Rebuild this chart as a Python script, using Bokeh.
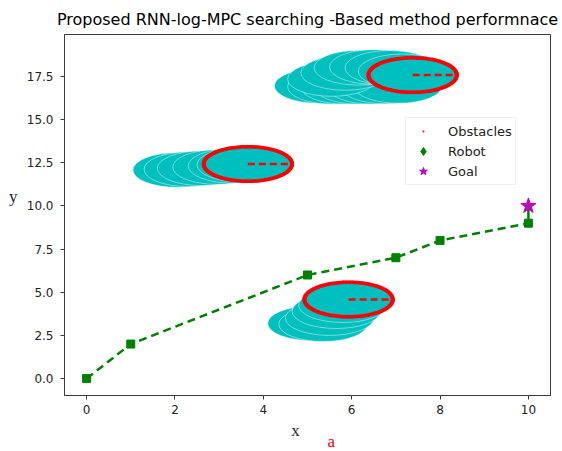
import numpy as np
from bokeh.plotting import figure
from bokeh.models import (Range1d, FixedTicker, PrintfTickFormatter, LinearAxis,
                          Legend, LegendItem)
from bokeh.embed import file_html
from bokeh.resources import INLINE

# ---------------- data ----------------
path_x = [0, 1, 5, 7, 8, 10]
path_y = [0, 2, 6, 7, 8, 9]
goal_x = [10]
goal_y = [10]
robot_x = [10]
robot_y = [10]

obs_radius = 1.0
# obstacle trajectories (centres); last entry = current obstacle position
obs1_x = [5.25, 5.55, 5.85, 6.15, 6.45, 6.75, 7.05, 5.55, 5.85, 6.15, 6.5, 6.85, 7.15, 7.38]
obs1_y = [16.95, 16.9, 16.9, 16.9, 16.9, 16.92, 16.95, 17.35, 17.7, 18.0, 18.05, 18.0, 17.8, 17.58]
obs2_x = [2.05, 2.3, 2.6, 2.95, 3.3, 3.5, 3.65]
obs2_y = [12.08, 12.12, 12.18, 12.25, 12.32, 12.38, 12.43]
obs3_x = [5.1, 5.35, 5.5, 5.65, 5.8, 5.93]
obs3_y = [3.2, 3.15, 3.5, 3.9, 4.25, 4.58]

x_ticks = [0, 2, 4, 6, 8, 10]
y_ticks = [0, 2.5, 5, 7.5, 10, 12.5, 15, 17.5]

title_text = "Proposed RNN-log-MPC searching -Based method performnace"
x_label, x_label_pos = "x", 4.73
a_label, a_label_pos = "a", 5.54
y_label, y_label_pos = "y", 10.54

CYAN = "#00bfbf"
RED = "#ff0000"
GREEN = "#008000"
MAG = "#bf00bf"
SPINE = "#3a3a3a"
LABEL_C = "#1f1f3a"

p = figure(frame_width=486, frame_height=361,
           min_border_left=64, min_border_right=8, min_border_top=34, min_border_bottom=54,
           x_range=Range1d(-0.5, 10.5), y_range=Range1d(-0.98, 19.93),
           output_backend="svg", toolbar_location=None, title=title_text)

p.title.text_font = "DejaVu Sans"
p.title.text_font_size = "16px"
p.title.text_font_style = "normal"
p.title.text_color = "black"
p.title.align = "center"
p.title.standoff = 11

p.xgrid.visible = False
p.ygrid.visible = False
p.outline_line_color = SPINE
p.outline_line_width = 1
p.outline_line_alpha = 1

for ax in (p.xaxis[0], p.yaxis[0]):
    ax.axis_line_color = SPINE
    ax.major_tick_line_color = SPINE
    ax.minor_tick_line_color = None
    ax.major_tick_in = 0
    ax.major_tick_out = 4
    ax.major_label_text_font = "DejaVu Sans"
    ax.major_label_text_font_size = "12px"
    ax.major_label_text_color = "#222222"
p.xaxis.major_label_standoff = 5
p.yaxis.major_label_standoff = 7

p.xaxis.ticker = FixedTicker(ticks=x_ticks)
p.yaxis.ticker = FixedTicker(ticks=y_ticks)
p.yaxis.formatter = PrintfTickFormatter(format="%.1f")


def label_axis(pos, text, color, standoff):
    ax = LinearAxis(ticker=FixedTicker(ticks=[pos]),
                    major_label_overrides={pos: text})
    ax.axis_line_color = None
    ax.major_tick_line_color = None
    ax.minor_tick_line_color = None
    ax.major_tick_in = 0
    ax.major_tick_out = 0
    ax.major_label_standoff = standoff
    ax.major_label_orientation = "horizontal"
    ax.major_label_text_font = "Liberation Serif"
    ax.major_label_text_font_size = "17px"
    ax.major_label_text_color = color
    return ax


p.add_layout(label_axis(x_label_pos, x_label, LABEL_C, 4), "below")
p.add_layout(label_axis(a_label_pos, a_label, RED, -11), "below")
p.add_layout(label_axis(y_label_pos, y_label, LABEL_C, 6), "left")

# ---------------- obstacles ----------------
theta = np.linspace(0, 2 * np.pi, 120)
obs_renderers = []
for ox, oy in ((obs1_x, obs1_y), (obs2_x, obs2_y), (obs3_x, obs3_y)):
    p.ellipse(x=ox, y=oy, width=2 * obs_radius, height=2 * obs_radius,
              fill_color=CYAN, line_color="white", line_width=1.0, line_alpha=0.45)
for ox, oy in ((obs1_x, obs1_y), (obs2_x, obs2_y), (obs3_x, obs3_y)):
    cx, cy = ox[-1], oy[-1]
    rx = cx + obs_radius * np.cos(theta)
    ry = cy + obs_radius * np.sin(theta)
    r = p.scatter(rx, ry, marker="dot", size=16, line_color=RED, fill_color=RED)
    obs_renderers.append(r)
    p.line([cx, cx + obs_radius], [cy, cy], line_color=RED, line_width=2.5, line_dash="7 4")

# ---------------- robot path ----------------
p.line(path_x, path_y, line_color=GREEN, line_width=2.5, line_dash="8 5")
p.scatter(path_x, path_y, marker="square", size=8, fill_color=GREEN, line_color=GREEN)
p.line([path_x[-1], goal_x[0]], [path_y[-1], goal_y[0]], line_color=GREEN, line_width=2.5)
robot_r = p.scatter(robot_x, robot_y, marker="diamond", size=2, fill_color=GREEN, line_color=GREEN)
goal_r = p.scatter(goal_x, goal_y, marker="star", size=16, fill_color=MAG, line_color=MAG)

legend = Legend(items=[LegendItem(label="Obstacles", renderers=[obs_renderers[0]]),
                       LegendItem(label="Robot", renderers=[robot_r]),
                       LegendItem(label="Goal", renderers=[goal_r])],
                location=(341, 210))
legend.padding = 3
legend.spacing = 0
legend.margin = 0
legend.glyph_width = 28
legend.glyph_height = 20
legend.label_height = 20
legend.label_standoff = 11
legend.label_text_font = "DejaVu Sans"
legend.label_text_font_size = "13px"
legend.label_text_color = "#222222"
legend.border_line_color = "#dddddd"
legend.background_fill_alpha = 0.8
p.add_layout(legend)

open("out.html", "w").write(file_html(p, INLINE))
